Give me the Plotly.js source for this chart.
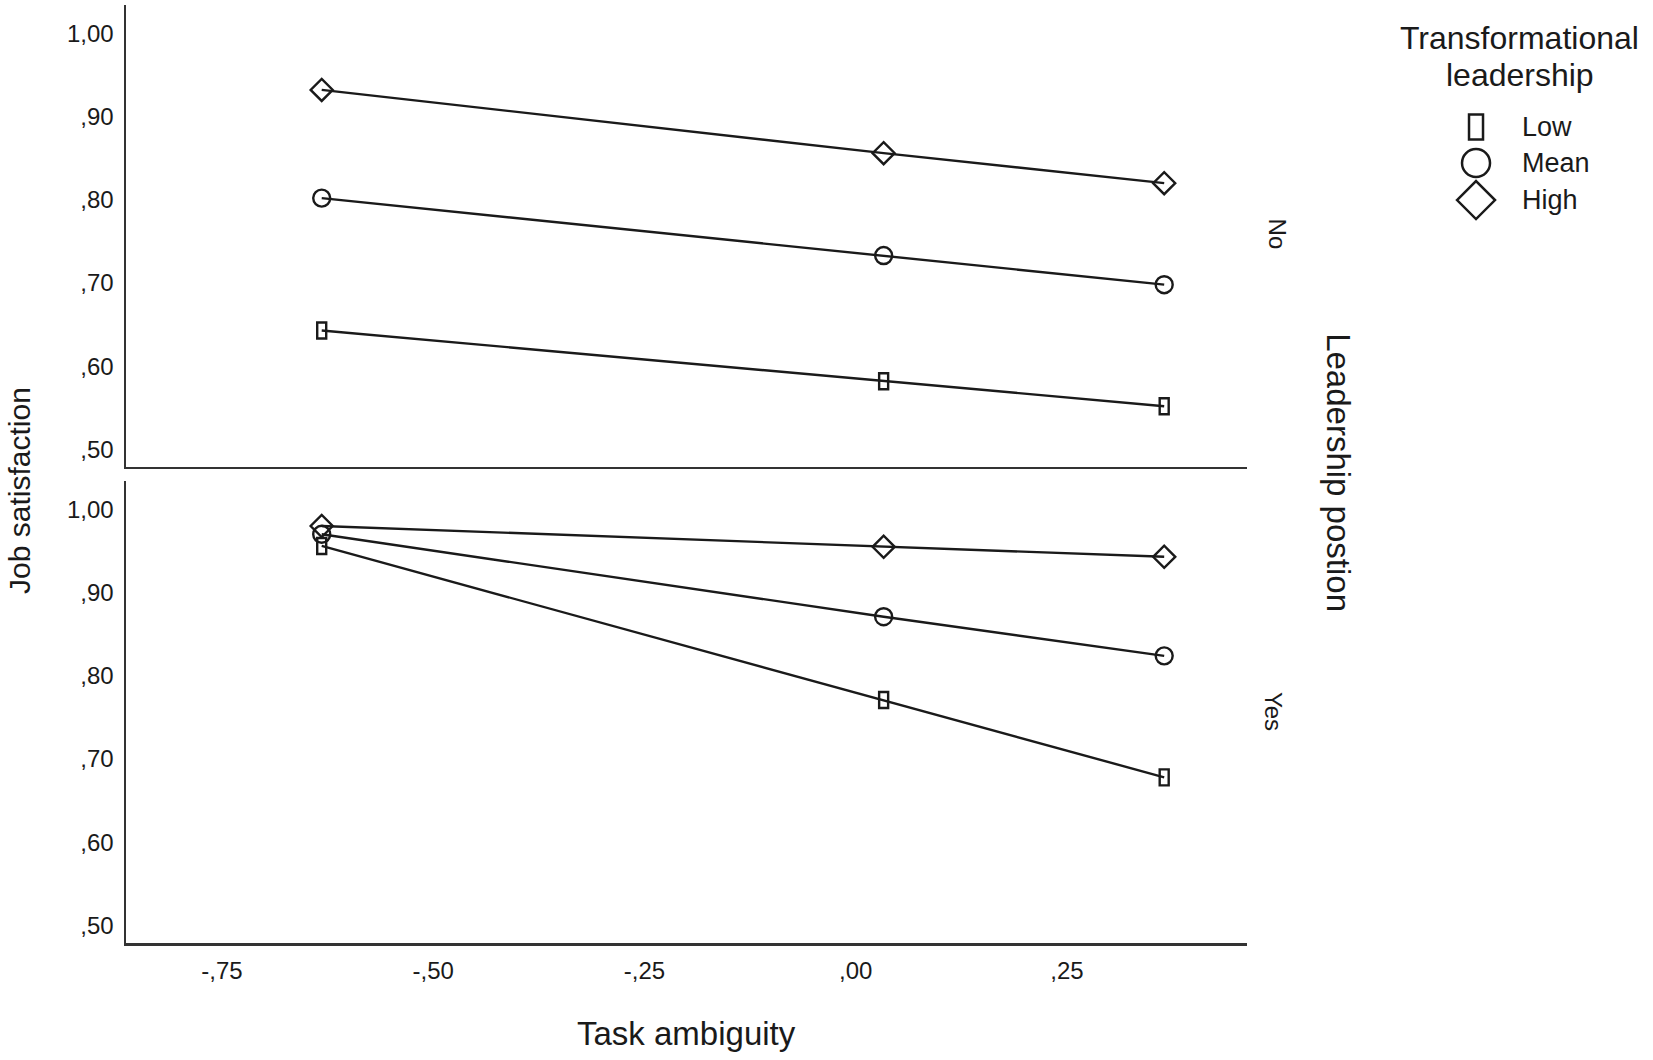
<!DOCTYPE html>
<html>
<head>
<meta charset="utf-8">
<script src="https://cdn.plot.ly/plotly-3.0.1.min.js"></script>
<style>
  body{margin:0;background:#fff;}
  #grafico{width:1653px;height:1060px;}
</style>
</head>
<body>
<div id="grafico"></div>
<script>
// datos
var ambiguedad = [-0.632, 0.033, 0.365];
var niveles = ["Low", "Mean", "High"];

// Leadership position = No (panel superior)
var no_low  = [0.643, 0.582, 0.552];
var no_mean = [0.802, 0.733, 0.698];
var no_high = [0.932, 0.856, 0.820];

// Leadership position = Yes (panel inferior)
var yes_low  = [0.956, 0.771, 0.678];
var yes_mean = [0.970, 0.871, 0.824];
var yes_high = [0.980, 0.955, 0.943];

var xticks = [-0.75, -0.5, -0.25, 0, 0.25];
var xtexto = ["-,75", "-,50", "-,25", ",00", ",25"];
var yticks = [0.5, 0.6, 0.7, 0.8, 0.9, 1.0];
var ytexto = [",50", ",60", ",70", ",80", ",90", "1,00"];

var fuente = "Liberation Sans, Arial, sans-serif";
var negro = "#1a1a1a";

function linea(ys, simbolo, xa, ya, nombre)
{
  var t = {
    x: ambiguedad,
    y: ys,
    xaxis: xa,
    yaxis: ya,
    name: nombre,
    type: "scatter",
    mode: simbolo ? "lines+markers" : "lines",
    line: {color: negro, width: 2.4},
    showlegend: false
  };
  if (simbolo) {
    t.marker = {symbol: simbolo, size: 17, color: negro, line: {color: negro, width: 2.4}};
  }
  return t;
}

var data = [
  linea(no_low, null, "x2", "y2", "Low"),
  linea(no_mean, "circle-open", "x2", "y2", "Mean"),
  linea(no_high, "diamond-open", "x2", "y2", "High"),
  linea(yes_low, null, "x", "y", "Low"),
  linea(yes_mean, "circle-open", "x", "y", "Mean"),
  linea(yes_high, "diamond-open", "x", "y", "High")
];

// los rectangulos finos de "Low" no existen como simbolo, se dibujan como shapes en pixeles
var shapes = [];
function rectangulos(ys, xr, yr)
{
  for (let i = 0; i < ambiguedad.length; i++) {
    shapes.push({
      type: "rect", xref: xr, yref: yr,
      xsizemode: "pixel", ysizemode: "pixel",
      xanchor: ambiguedad[i], yanchor: ys[i],
      x0: -4.5, x1: 4.5, y0: -8, y1: 8,
      line: {color: negro, width: 2.4},
      fillcolor: "rgba(0,0,0,0)",
      layer: "above"
    });
  }
}
rectangulos(no_low, "x2", "y2");
rectangulos(yes_low, "x", "y");

// leyenda hecha a mano
var leyX = 1.2043;
var leyY = [0.870, 0.8316, 0.7921];
shapes.push({type: "rect", xref: "paper", yref: "paper", xsizemode: "pixel", ysizemode: "pixel",
  xanchor: leyX, yanchor: leyY[0], x0: -7, x1: 7, y0: -12.5, y1: 12.5,
  line: {color: negro, width: 2.5}});
shapes.push({type: "circle", xref: "paper", yref: "paper", xsizemode: "pixel", ysizemode: "pixel",
  xanchor: leyX, yanchor: leyY[1], x0: -14, x1: 14, y0: -14, y1: 14,
  line: {color: negro, width: 2.5}});
shapes.push({type: "path", xref: "paper", yref: "paper", xsizemode: "pixel", ysizemode: "pixel",
  xanchor: leyX, yanchor: leyY[2], path: "M -19 0 L 0 19 L 19 0 L 0 -19 Z",
  line: {color: negro, width: 2.5}});

function rotulo(texto, x, y, tam, angulo, anclaX)
{
  return {text: texto, xref: "paper", yref: "paper", x: x, y: y, textangle: angulo || 0,
    xanchor: anclaX || "center", yanchor: "middle",
    showarrow: false, font: {family: fuente, size: tam, color: negro}};
}

var annotations = [
  rotulo("Job satisfaction", -0.0946, 0.483, 30, -90),
  rotulo("Task ambiguity", 0.5, -0.096, 33),
  rotulo("Leadership postion", 1.082, 0.501, 33, 90),
  rotulo("No", 1.027, 0.756, 24, 90),
  rotulo("Yes", 1.0235, 0.247, 24, 90),
  rotulo("Transformational", 1.2435, 0.9648, 32),
  rotulo("leadership", 1.2435, 0.9254, 32)
];
for (let i = 0; i < niveles.length; i++) {
  annotations.push(rotulo(niveles[i], 1.2435, leyY[i], 27, 0, "left"));
}

var ejeX = {
  range: [-0.8636, 0.463],
  tickvals: xticks, ticktext: xtexto,
  showline: true, linecolor: "#333", linewidth: 2.5,
  showgrid: false, zeroline: false, ticks: "",
  ticklabelstandoff: 5,
  tickfont: {family: fuente, size: 24, color: negro},
  fixedrange: true
};
var ejeY = {
  range: [0.479, 1.034],
  tickvals: yticks, ticktext: ytexto,
  showline: true, linecolor: "#333", linewidth: 2.5,
  showgrid: false, zeroline: false, ticks: "",
  ticklabelstandoff: 5,
  tickfont: {family: fuente, size: 24, color: negro},
  fixedrange: true
};

var layout = {
  width: 1653, height: 1060,
  margin: {l: 126, r: 406, t: 5, b: 117},
  paper_bgcolor: "#fff", plot_bgcolor: "#fff",
  font: {family: fuente, color: negro},
  showlegend: false,
  xaxis: Object.assign({}, ejeX, {anchor: "y"}),
  xaxis2: Object.assign({}, ejeX, {anchor: "y2", matches: "x", showticklabels: false}),
  yaxis: Object.assign({}, ejeY, {domain: [0, 0.4925], anchor: "x"}),
  yaxis2: Object.assign({}, ejeY, {domain: [0.5075, 1], anchor: "x2"}),
  shapes: shapes,
  annotations: annotations
};

Plotly.newPlot("grafico", data, layout, {displayModeBar: false, staticPlot: true});
</script>
</body>
</html>
